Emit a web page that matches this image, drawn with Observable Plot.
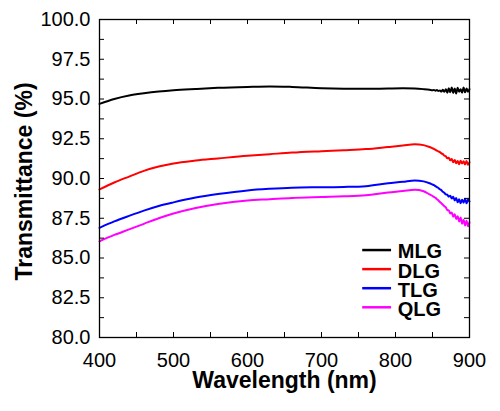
<!DOCTYPE html>
<html>
<head>
<meta charset="utf-8">
<script src="https://cdn.jsdelivr.net/npm/d3@7"></script>
<script src="https://cdn.jsdelivr.net/npm/@observablehq/plot@0.6"></script>
<style>
  html, body { margin: 0; padding: 0; background: #fff; }
  #chart svg { display: block; }
</style>
</head>
<body>
<div id="chart"></div>
<script>
// Wavelength samples (nm)
const wavelength = [400,420,440,460,480,500,530,560,600,630,660,700,730,760,790,810,826,838,846,
  850,852,854,856,858,860,862,864,866,868,870,872,874,876,878,880,882,884,886,888,890,892,894,896,898,900];

// Transmittance (%) per series
const MLG = [94.69,95.00,95.22,95.36,95.47,95.55,95.63,95.70,95.76,95.79,95.76,95.68,95.65,95.64,95.66,95.67,95.66,95.62,95.58,
  95.55,95.57,95.52,95.56,95.50,95.54,95.47,95.58,95.45,95.62,95.40,95.68,95.43,95.72,95.38,95.66,95.35,95.70,95.45,95.62,95.40,95.72,95.42,95.66,95.46,95.62];
const DLG = [89.31,89.75,90.12,90.48,90.75,90.95,91.13,91.26,91.43,91.53,91.63,91.72,91.78,91.85,91.98,92.07,92.15,92.10,91.98,
  91.90,91.86,91.80,91.76,91.70,91.66,91.58,91.53,91.44,91.40,91.28,91.30,91.14,91.22,91.02,91.16,90.96,91.10,90.90,91.12,90.95,91.08,90.88,91.10,90.86,91.02];
const TLG = [86.90,87.30,87.65,87.98,88.27,88.50,88.80,89.02,89.25,89.35,89.42,89.45,89.47,89.52,89.70,89.79,89.88,89.82,89.70,
  89.62,89.58,89.52,89.46,89.40,89.32,89.26,89.16,89.10,89.00,88.98,88.86,88.92,88.74,88.85,88.62,88.78,88.50,88.70,88.45,88.66,88.48,88.72,88.44,88.68,88.55];
const QLG = [86.05,86.45,86.80,87.15,87.50,87.80,88.15,88.40,88.62,88.70,88.78,88.84,88.88,88.95,89.12,89.21,89.29,89.20,89.00,
  88.90,88.84,88.78,88.70,88.62,88.52,88.44,88.35,88.26,88.18,88.02,88.00,87.80,87.86,87.60,87.75,87.45,87.62,87.30,87.55,87.15,87.40,87.05,87.35,87.00,87.25];

const seriesNames = ["MLG", "DLG", "TLG", "QLG"];
const seriesValues = [MLG, DLG, TLG, QLG];
const seriesColors = ["#000000", "#ff0000", "#0000ff", "#ff00ff"];

const xMajorTicks = [400, 500, 600, 700, 800, 900];
const xAllTicks = [400, 450, 500, 550, 600, 650, 700, 750, 800, 850, 900];
const yMajorTicks = [80, 82.5, 85, 87.5, 90, 92.5, 95, 97.5, 100];
const yAllTicks = [80, 81.25, 82.5, 83.75, 85, 86.25, 87.5, 88.75, 90, 91.25, 92.5, 93.75, 95, 96.25, 97.5, 98.75, 100];

const rows = seriesNames.flatMap((name, i) =>
  wavelength.map((w, j) => ({ wavelength: w, value: seriesValues[i][j], name })));

// Legend placement (in data units, inside the axes)
const legX1 = 755, legX2 = 794, legText = 803, legTop = 85.5, legStep = 1.2;
const legend = seriesNames.map((name, i) => ({ name, y: legTop - i * legStep }));

const W = 500, H = 411;
const mL = 99, mR = 31, mT = 19, mB = 74;
const innerW = W - mL - mR, innerH = H - mT - mB;
const tk = 5;

const chart = Plot.plot({
  width: W, height: H,
  marginLeft: mL, marginRight: mR, marginTop: mT, marginBottom: mB,
  style: { fontFamily: "'Liberation Sans', Arial, sans-serif", fontSize: "20px", color: "#000", background: "#fff" },
  x: { domain: [400, 900] },
  y: { domain: [80, 100] },
  color: { domain: seriesNames, range: seriesColors },
  marks: [
    Plot.line(rows, { x: "wavelength", y: "value", z: "name", stroke: "name", strokeWidth: 2, curve: "monotone-x" }),
    // inward ticks
    Plot.tickX(xAllTicks, { x: d => d, insetTop: innerH - tk, stroke: "#000" }),
    Plot.tickX(xAllTicks, { x: d => d, insetBottom: innerH - tk, stroke: "#000" }),
    Plot.tickY(yAllTicks, { y: d => d, insetRight: innerW - tk, stroke: "#000" }),
    Plot.tickY(yAllTicks, { y: d => d, insetLeft: innerW - tk, stroke: "#000" }),
    Plot.axisX({ ticks: xMajorTicks, tickSize: 0, tickPadding: 15, tickFormat: d => String(d), label: null, fontSize: 20 }),
    Plot.axisY({ ticks: yMajorTicks, tickSize: 0, tickPadding: 9, tickFormat: d => d.toFixed(1), label: null, fontSize: 20 }),
    Plot.frame({ stroke: "#000", strokeWidth: 1.3 }),
    Plot.text(["Wavelength (nm)"], { frameAnchor: "bottom", textAnchor: "middle", lineAnchor: "middle", dy: 43.5, fontSize: 23, fontWeight: "bold", fill: "#000" }),
    Plot.text(["Transmittance (%)"], { frameAnchor: "left", textAnchor: "middle", lineAnchor: "middle", rotate: -90, dx: -75, dy: 3, fontSize: 23, fontWeight: "bold", fill: "#000" }),
    // legend
    Plot.link(legend, { x1: () => legX1, x2: () => legX2, y1: "y", y2: "y", stroke: "name", strokeWidth: 2.5 }),
    Plot.text(legend, { x: () => legText, y: "y", text: "name", textAnchor: "start", lineAnchor: "middle", dy: 2, fontSize: 20, fontWeight: "bold", fill: "#000" })
  ]
});

document.getElementById("chart").appendChild(chart);
</script>
</body>
</html>
